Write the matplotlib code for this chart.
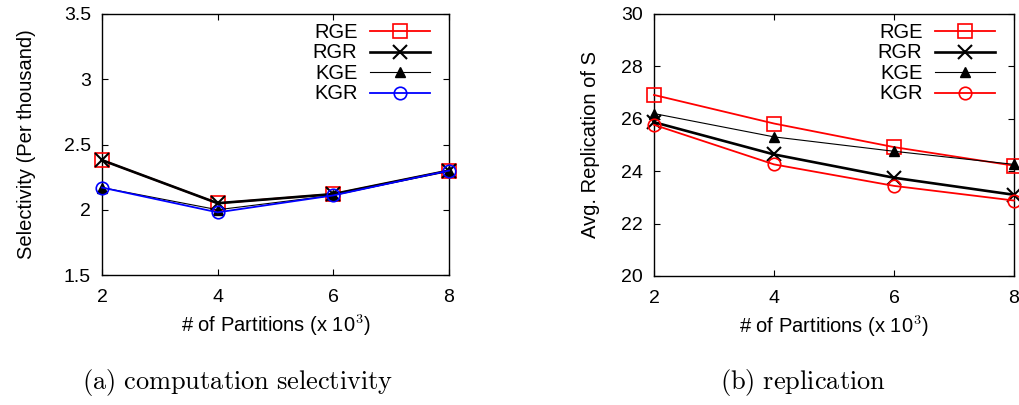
import matplotlib
matplotlib.use("Agg")
import matplotlib.pyplot as plt

plt.rcParams["font.family"] = ["Liberation Sans", "DejaVu Sans"]
plt.rcParams["mathtext.fontset"] = "cm"

partitions = [2, 4, 6, 8]

# (a) computation selectivity (per thousand)
sel_rge = [2.38, 2.05, 2.12, 2.30]
sel_rgr = [2.38, 2.05, 2.12, 2.30]
sel_kge = [2.17, 2.00, 2.11, 2.30]
sel_kgr = [2.17, 1.98, 2.11, 2.30]

# (b) avg. replication of S
rep_rge = [26.91, 25.82, 24.92, 24.21]
rep_rgr = [25.87, 24.64, 23.75, 23.10]
rep_kge = [26.20, 25.31, 24.76, 24.26]
rep_kgr = [25.77, 24.26, 23.44, 22.88]

series_names = ["RGE", "RGR", "KGE", "KGR"]


def draw_panel(ax, values, kgr_color, width_px):
    styles = [
        dict(color="red", marker="s", mfc="none", mec="red", ms=9.5, mew=1.2, lw=1.3),
        dict(color="black", marker="x", ms=9.5, mew=1.5, lw=1.9),
        dict(color="black", marker="^", ms=7.5, lw=0.8),
        dict(color=kgr_color, marker="o", mfc="none", mec=kgr_color, ms=9, mew=1.2, lw=1.3),
    ]
    for name, vals, st in zip(series_names, values, styles):
        ax.plot(partitions, vals, label=name, clip_on=False, zorder=3, **st)
    ax.set_xlim(2, 8)
    ax.set_xticks(partitions)
    ax.tick_params(direction="in", length=4, top=True, right=True, labelsize=14, width=0.8)
    ax.tick_params(axis="x", pad=10)
    ax.tick_params(axis="y", pad=8)
    for sp in ax.spines.values():
        sp.set_linewidth(1.0)
    ax.set_xlabel(r"# of Partitions (x 10$^3$)", fontsize=14.5, labelpad=5)
    leg = ax.legend(loc="upper right", bbox_to_anchor=(1 - 10 / width_px, 1),
                    frameon=False, markerfirst=False, fontsize=14.5,
                    handlelength=3.0, handleheight=0.6, labelspacing=0.07,
                    borderaxespad=0.15, borderpad=0.3, handletextpad=0.6)
    for t in leg.get_texts():
        t.set_ha("right")


fig = plt.figure(figsize=(10.2, 4.05), dpi=100)

ax1 = fig.add_axes([102 / 1020, 1 - 275 / 405, 347 / 1020, 261 / 405])
draw_panel(ax1, [sel_rge, sel_rgr, sel_kge, sel_kgr], "blue", 347)
ax1.set_ylim(1.5, 3.5)
ax1.set_yticks([1.5, 2, 2.5, 3, 3.5])
ax1.set_yticklabels(["1.5", "2", "2.5", "3", "3.5"])
ax1.set_ylabel("Selectivity (Per thousand)", fontsize=14.5, labelpad=20)

ax2 = fig.add_axes([654 / 1020, 1 - 276 / 405, 360 / 1020, 262 / 405])
draw_panel(ax2, [rep_rge, rep_rgr, rep_kge, rep_kgr], "red", 360)
ax2.set_ylim(20, 30)
ax2.set_yticks([20, 22, 24, 26, 28, 30])
ax2.set_ylabel("Avg. Replication of S", fontsize=14.5, labelpad=15)

fig.text(238 / 1020, 1 - 382 / 405, r"$\mathrm{(a)\ computation\ selectivity}$",
         ha="center", va="center", fontsize=19)
fig.text(803 / 1020, 1 - 382 / 405, r"$\mathrm{(b)\ replication}$",
         ha="center", va="center", fontsize=19)

fig.savefig("out.png", dpi=100, facecolor="white")
